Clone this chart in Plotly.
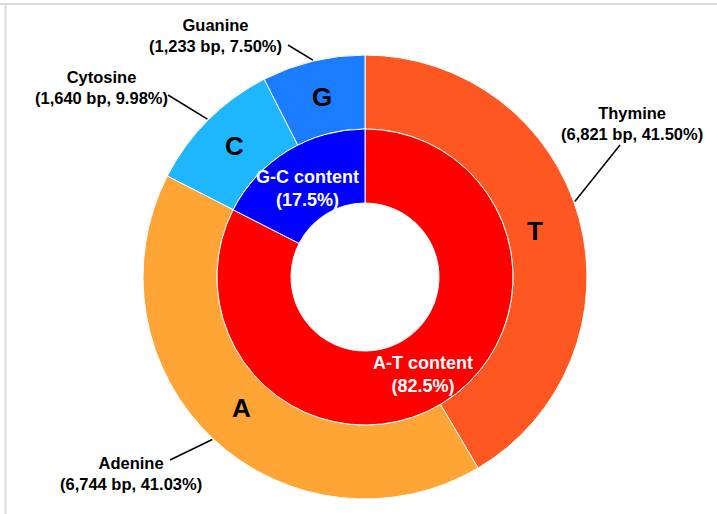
import math
import plotly.graph_objects as go

# ---- data ----
base_letters = ["T", "A", "C", "G"]
base_names = ["Thymine", "Adenine", "Cytosine", "Guanine"]
base_bp = [6821, 6744, 1640, 1233]
base_pct = [41.50, 41.03, 9.98, 7.50]
group_names = ["A-T content", "G-C content"]
group_pct = [82.5, 17.5]

# ---- styling / layout constants ----
W, H = 717, 514
CX, CY = 365, 277          # pie centre in pixels
R_OUT, R_MID, R_IN = 222, 148, 74
base_colors = ["#FF5722", "#FFA535", "#1EB6FF", "#1A7DFF"]
group_colors = ["#FF0000", "#0000FF"]
FONT = "Liberation Sans, Arial, sans-serif"

# label placement tweaks (pixels)
letter_radius = [176, 180, 185, 185]
inner_dy = [3, 6]
label_centres = [(632, 123), (131, 473), (101, 87), (215, 36)]
leader_text_end = [(620, 145), (170, 460), (168, 95), (288, 45)]
angle_nudge = [-4.5, 0, 0, 0]


def px(x):
    return x / W


def py(y):
    return 1 - y / H


def dom(r):
    return dict(x=[px(CX - r), px(CX + r)], y=[py(CY + r), py(CY - r)])


def mid_angles(vals):
    tot = sum(vals)
    out, acc = [], 0
    for v in vals:
        out.append((acc + v / 2) / tot * 360)
        acc += v
    return out


def polar(angle_deg, r):
    a = math.radians(angle_deg)
    return CX + r * math.sin(a), CY - r * math.cos(a)


fig = go.Figure()
fig.add_trace(go.Pie(
    labels=base_letters, values=base_bp, sort=False, direction="clockwise",
    rotation=0, hole=R_MID / R_OUT, domain=dom(R_OUT),
    marker=dict(colors=base_colors, line=dict(color="white", width=1)),
    textinfo="none", hoverinfo="label+value+percent", showlegend=False,
))
fig.add_trace(go.Pie(
    labels=group_names, values=group_pct, sort=False, direction="clockwise",
    rotation=0, hole=R_IN / R_MID, domain=dom(R_MID),
    marker=dict(colors=group_colors, line=dict(color="white", width=1)),
    textinfo="none", hoverinfo="label+percent", showlegend=False,
))

annotations = []
shapes = []


def text_ann(x, y, text, size, color):
    return dict(x=px(x), y=py(y), xref="paper", yref="paper",
                xanchor="center", yanchor="middle", align="center",
                text=text, showarrow=False,
                font=dict(family=FONT, size=size, color=color))


# outer ring letters
for i, (ang, letter) in enumerate(zip(mid_angles(base_bp), base_letters)):
    x, y = polar(ang, letter_radius[i])
    annotations.append(text_ann(x, y, f"<b>{letter}</b>", 26, "black"))

# inner ring labels
for i, (ang, name, pct) in enumerate(zip(mid_angles(group_pct), group_names, group_pct)):
    x, y = polar(ang, (R_IN + R_MID) / 2)
    annotations.append(text_ann(x, y + inner_dy[i],
                                f"<b>{name}<br>({pct:.1f}%)</b>", 18, "white"))

# outside labels with leader lines
for i, ang in enumerate(mid_angles(base_bp)):
    cx, cy = label_centres[i]
    annotations.append(text_ann(
        cx, cy,
        f"<b>{base_names[i]}<br>({base_bp[i]:,} bp, {base_pct[i]:.2f}%)</b>",
        16.5, "black"))
    x0, y0 = polar(ang + angle_nudge[i], R_OUT + 1)
    x1, y1 = leader_text_end[i]
    shapes.append(dict(type="line", xref="paper", yref="paper",
                       x0=px(x0), y0=py(y0), x1=px(x1), y1=py(y1),
                       line=dict(color="black", width=1.5)))

# faint frame (top and left edges visible)
shapes.append(dict(type="line", xref="paper", yref="paper",
                   x0=0, x1=1, y0=py(4), y1=py(4),
                   line=dict(color="#DCDCD8", width=2)))
shapes.append(dict(type="line", xref="paper", yref="paper",
                   x0=px(5.5), x1=px(5.5), y0=py(4), y1=0,
                   line=dict(color="#DCDCD8", width=2)))

fig.update_layout(
    width=W, height=H,
    margin=dict(l=0, r=0, t=0, b=0),
    paper_bgcolor="white", plot_bgcolor="white",
    annotations=annotations, shapes=shapes,
    showlegend=False,
)

fig.write_html(
    "out.html",
    config={"displayModeBar": False},
    post_script="document.body.style.margin='0px';document.body.style.overflow='hidden';",
)
